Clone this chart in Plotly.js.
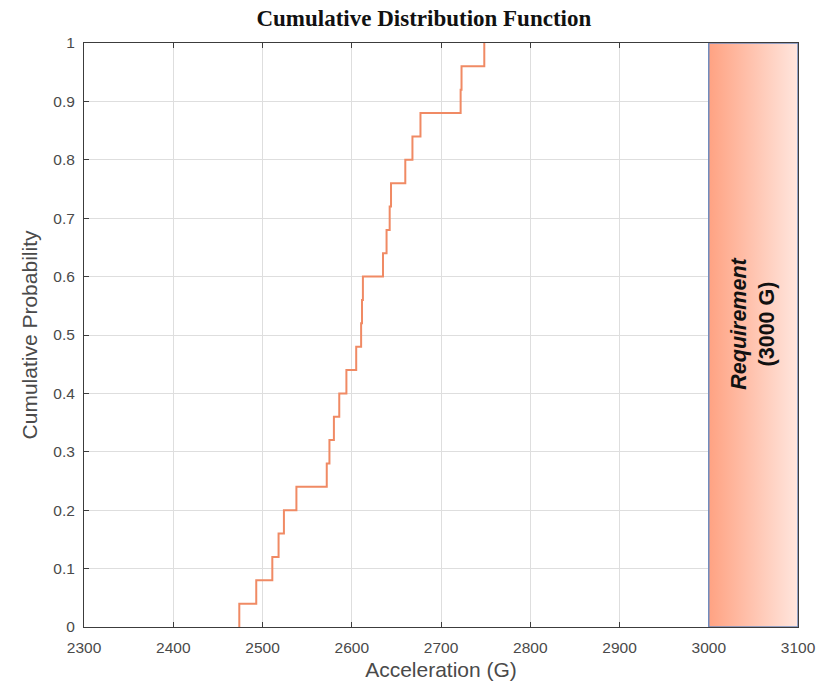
<!DOCTYPE html>
<html>
<head>
<meta charset="utf-8">
<script src="https://cdn.plot.ly/plotly-3.0.1.min.js"></script>
<style>
  html, body { margin: 0; padding: 0; background: #ffffff; }
  #chart { width: 831px; height: 686px; }
</style>
</head>
<body>
<div id="chart"></div>
<script>
// Sorted peak accelerations (G) of the 25 test samples, preceded by the start of the curve
const accelerations = [
  2474, 2474, 2493, 2511, 2518, 2524, 2538, 2572, 2575, 2580,
  2586, 2594, 2605, 2610.5, 2611.5, 2612.5, 2635, 2639, 2642.5, 2644,
  2660, 2668, 2677, 2722, 2723, 2748.5
];
// Empirical cumulative probability after each sample (starts at 0)
const cumulativeProbability = [
  0, 0.04, 0.08, 0.12, 0.16, 0.20, 0.24, 0.28, 0.32, 0.36,
  0.40, 0.44, 0.48, 0.52, 0.56, 0.60, 0.64, 0.68, 0.72, 0.76,
  0.80, 0.84, 0.88, 0.92, 0.96, 1.00
];

// Requirement band and axis extents
const requirementG = 3000;
const xMin = 2300;
const xMax = 3100;
const xTicks = [2300, 2400, 2500, 2600, 2700, 2800, 2900, 3000, 3100];
const yTicks = [0, 0.1, 0.2, 0.3, 0.4, 0.5, 0.6, 0.7, 0.8, 0.9, 1];

const lineColor = '#F08A64';
const tickColor = '#4a4a4a';
const sans = 'Liberation Sans, Arial, sans-serif';

const cdfTrace = {
  type: 'scatter',
  mode: 'lines',
  x: accelerations,
  y: cumulativeProbability,
  line: { color: lineColor, width: 2, shape: 'hv' },
  hoverinfo: 'x+y',
  showlegend: false
};

// Shaded requirement region from the requirement value to the axis end
const requirementBand = {
  type: 'scatter',
  mode: 'lines',
  x: [requirementG, xMax, xMax, requirementG, requirementG],
  y: [0, 0, 1, 1, 0],
  fill: 'toself',
  fillgradient: {
    type: 'horizontal',
    colorscale: [[0, 'rgb(255,162,130)'], [1, 'rgb(255,230,222)']]
  },
  line: { color: 'rgb(112,140,190)', width: 1.5 },
  hoverinfo: 'skip',
  showlegend: false
};

const axisCommon = {
  showline: true,
  mirror: 'ticks',
  linecolor: '#3c3c3c',
  linewidth: 1,
  ticks: 'inside',
  ticklen: 5,
  tickcolor: '#3c3c3c',
  showgrid: true,
  gridcolor: '#dedede',
  gridwidth: 1,
  zeroline: false,
  layer: 'below traces',
  tickfont: { family: sans, size: 15.5, color: tickColor }
};

const layout = {
  width: 831,
  height: 686,
  margin: { l: 84, r: 33, t: 43, b: 59 },
  paper_bgcolor: '#ffffff',
  plot_bgcolor: '#ffffff',
  title: {
    text: '<b>Cumulative Distribution Function</b>',
    font: { family: 'Liberation Serif, Times New Roman, serif', size: 23, color: '#111111' },
    x: 0.476,
    xref: 'paper',
    xanchor: 'center',
    y: 0.974,
    yref: 'container',
    yanchor: 'middle'
  },
  xaxis: Object.assign({}, axisCommon, {
    range: [xMin, xMax],
    tickvals: xTicks,
    ticktext: xTicks.map(String),
    ticklabelstandoff: 6,
    title: {
      text: 'Acceleration (G)',
      font: { family: sans, size: 21, color: tickColor },
      standoff: 7
    }
  }),
  yaxis: Object.assign({}, axisCommon, {
    range: [0, 1],
    tickvals: yTicks,
    ticktext: yTicks.map(String),
    ticklabelstandoff: 5,
    title: {
      text: 'Cumulative Probability',
      font: { family: sans, size: 21, color: tickColor },
      standoff: 9
    }
  }),
  annotations: [{
    x: (requirementG + xMax) / 2,
    y: 0.52,
    xref: 'x',
    yref: 'y',
    text: '<b><i>Requirement</i></b><br><b>(' + requirementG + ' G)</b>',
    textangle: -90,
    showarrow: false,
    font: { family: sans, size: 21.5, color: '#111111' },
    align: 'center'
  }],
  showlegend: false
};

Plotly.newPlot('chart', [requirementBand, cdfTrace], layout, { displayModeBar: false, staticPlot: true });
</script>
</body>
</html>
